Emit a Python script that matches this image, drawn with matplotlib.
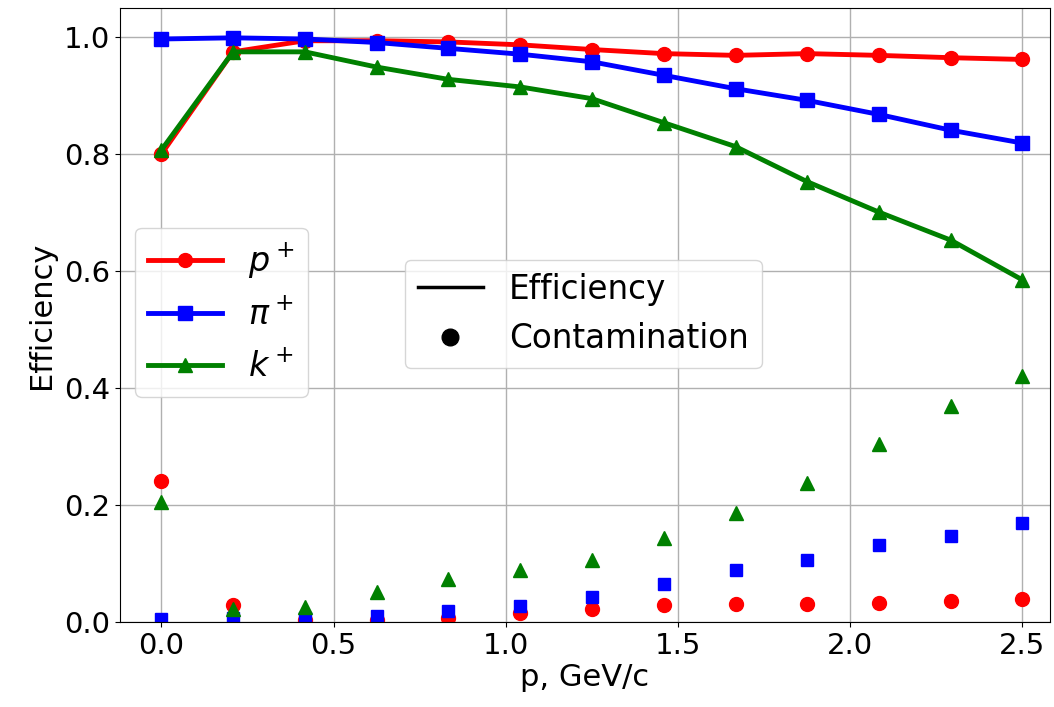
import matplotlib
matplotlib.use('Agg')
import matplotlib.pyplot as plt
from matplotlib.lines import Line2D

# momentum bins, GeV/c
p = [0.0, 0.208, 0.417, 0.625, 0.833, 1.042, 1.25, 1.458, 1.667, 1.875, 2.083, 2.292, 2.5]

eff_p = [0.800, 0.975, 0.994, 0.994, 0.992, 0.987, 0.979, 0.972, 0.969, 0.972, 0.969, 0.965, 0.962]
eff_pi = [0.997, 0.999, 0.997, 0.991, 0.981, 0.971, 0.958, 0.935, 0.912, 0.892, 0.868, 0.841, 0.819]
eff_k = [0.807, 0.975, 0.975, 0.949, 0.928, 0.915, 0.895, 0.854, 0.813, 0.753, 0.701, 0.653, 0.585]

cont_p = [0.241, 0.029, 0.004, 0.004, 0.007, 0.015, 0.023, 0.029, 0.031, 0.031, 0.033, 0.036, 0.040]
cont_pi = [0.005, 0.007, 0.007, 0.010, 0.019, 0.028, 0.043, 0.065, 0.089, 0.106, 0.132, 0.147, 0.169]
cont_k = [0.206, 0.022, 0.026, 0.052, 0.073, 0.089, 0.106, 0.143, 0.187, 0.237, 0.304, 0.370, 0.421]

plt.rcParams['font.size'] = 22

fig = plt.figure(figsize=(10.54, 7.07), dpi=100)
ax = fig.add_axes([120 / 1054, 85 / 707, 930 / 1054, 614 / 707])

lp, = ax.plot(p, eff_p, color='red', marker='o', lw=3.5, ms=10, label='$p^+$')
lpi, = ax.plot(p, eff_pi, color='blue', marker='s', lw=3.5, ms=10, label='$\\pi^+$')
lk, = ax.plot(p, eff_k, color='green', marker='^', lw=3.5, ms=10, label='$k^+$')

ax.plot(p, cont_p, color='red', marker='o', ls='none', ms=10)
ax.plot(p, cont_pi, color='blue', marker='s', ls='none', ms=9)
ax.plot(p, cont_k, color='green', marker='^', ls='none', ms=10)

ax.set_xlim(-0.12, 2.58)
ax.set_ylim(0, 1.05)
ax.set_xticks([0.0, 0.5, 1.0, 1.5, 2.0, 2.5])
ax.set_yticks([0.0, 0.2, 0.4, 0.6, 0.8, 1.0])
ax.grid(True, color='#b0b0b0', lw=1)
ax.set_axisbelow(True)
ax.tick_params(labelsize=21)
ax.set_xlabel('p, GeV/c', fontsize=22, labelpad=2)
ax.set_ylabel('Efficiency', fontsize=22, labelpad=6)

leg1 = ax.legend(handles=[lp, lpi, lk], loc='upper left',
                 bbox_to_anchor=(0.016, 0.642), borderaxespad=0,
                 fontsize=24, handlelength=2.2, labelspacing=0.55)
ax.add_artist(leg1)

h_eff = Line2D([], [], color='black', lw=2.5)
h_cont = Line2D([], [], color='black', marker='o', ls='none', ms=12)
ax.legend(handles=[h_eff, h_cont], labels=['Efficiency', 'Contamination'],
          loc='upper left', bbox_to_anchor=(0.306, 0.590), borderaxespad=0,
          fontsize=23.5, handlelength=2.0)

fig.savefig('out.png')
